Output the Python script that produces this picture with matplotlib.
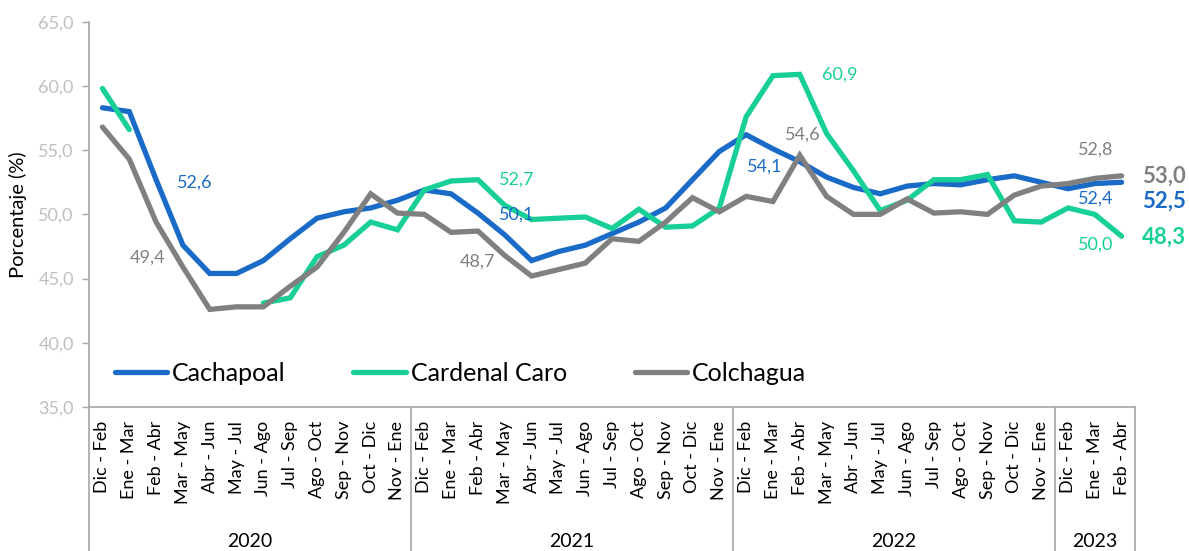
import matplotlib
matplotlib.use("Agg")
import matplotlib.pyplot as plt
import matplotlib.transforms as mtransforms
import numpy as np

plt.rcParams['font.family'] = ['Lato', 'DejaVu Sans']

periods = ["Dic - Feb", "Ene - Mar", "Feb - Abr", "Mar - May", "Abr - Jun", "May - Jul",
           "Jun - Ago", "Jul - Sep", "Ago - Oct", "Sep - Nov", "Oct - Dic", "Nov - Ene"]
years = ["2020", "2021", "2022", "2023"]
year_counts = [12, 12, 12, 3]
categories = periods * 3 + periods[:3]

cachapoal = [58.3, 58.0, 52.7, 47.6, 45.4, 45.4, 46.4, 48.1, 49.7, 50.2, 50.5, 51.1,
             51.9, 51.6, 50.1, 48.4, 46.4, 47.1, 47.6, 48.5, 49.4, 50.5, 52.7, 54.9,
             56.2, 55.1, 54.1, 52.9, 52.1, 51.6, 52.2, 52.4, 52.3, 52.7, 53.0, 52.5,
             52.0, 52.4, 52.5]
cardenal_caro = [59.8, 56.6, None, None, None, None, 43.1, 43.5, 46.7, 47.6, 49.4, 48.8,
                 51.9, 52.6, 52.7, 50.7, 49.6, 49.7, 49.8, 48.9, 50.4, 49.0, 49.1, 50.5,
                 57.6, 60.8, 60.9, 56.3, 53.4, 50.3, 51.1, 52.7, 52.7, 53.1, 49.5, 49.4,
                 50.5, 50.0, 48.3]
colchagua = [56.8, 54.3, 49.4, 45.9, 42.6, 42.8, 42.8, 44.4, 45.9, 48.6, 51.6, 50.1,
             50.0, 48.6, 48.7, 46.8, 45.2, 45.7, 46.2, 48.1, 47.9, 49.4, 51.3, 50.2,
             51.4, 51.0, 54.6, 51.4, 50.0, 50.0, 51.2, 50.1, 50.2, 50.0, 51.5, 52.2,
             52.4, 52.8, 53.0]

series_names = ["Cachapoal", "Cardenal Caro", "Colchagua"]
colors = ["#1A6BC8", "#17CF97", "#808080"]

# data labels: (text, x position, y position, series index)
labels = [
    ("52,6", 3.45, 52.5, 0), ("49,4", 1.7, 46.6, 2),
    ("52,7", 15.45, 52.7, 1), ("50,1", 15.45, 50.0, 0), ("48,7", 14.0, 46.3, 2),
    ("54,1", 24.7, 53.7, 0), ("60,9", 27.5, 60.85, 1), ("54,6", 26.1, 56.2, 2),
    ("52,8", 37.05, 55.05, 2), ("52,4", 37.05, 51.2, 0), ("50,0", 37.05, 47.65, 1),
]
end_labels = [("53,0", 52.95, 2), ("52,5", 51.0, 0), ("48,3", 48.2, 1)]

fig = plt.figure(figsize=(11.89, 5.51), dpi=100)
ax = fig.add_axes([0.0749, 0.2613, 0.8797, 0.6993])

x = np.arange(len(categories))
for vals, name, c in zip([cachapoal, cardenal_caro, colchagua], series_names, colors):
    y = np.array([np.nan if v is None else v for v in vals], dtype=float)
    ax.plot(x, y, color=c, lw=3.8, label=name, solid_capstyle='round', solid_joinstyle='miter')

for t, lx, ly, si in labels:
    ax.text(lx, ly, t, color=colors[si], fontsize=13, ha='center', va='center')
for t, ly, si in end_labels:
    ax.text(38.75, ly, t, color=colors[si], fontsize=16, fontweight='bold',
            ha='left', va='center', clip_on=False)

ax.set_xlim(-0.5, len(categories) - 0.5)
ax.set_ylim(35, 65)
ax.set_yticks(np.arange(35, 66, 5))
ax.set_yticklabels([f"{v:.1f}".replace('.', ',') for v in np.arange(35, 66, 5)],
                   color="#BFBFBF", fontsize=13)
ax.tick_params(axis='y', length=5, width=1, color="#A6A6A6", pad=6)
ax.set_xticks(x)
ax.set_xticklabels(categories, rotation=90, fontsize=13, va='top')
ax.tick_params(axis='x', length=0, pad=10)

for s in ['top', 'right']:
    ax.spines[s].set_visible(False)
for s in ['left', 'bottom']:
    ax.spines[s].set_color("#A6A6A6")
    ax.spines[s].set_linewidth(1.2)

ax.set_ylabel("Porcentaje (%)", fontsize=14.5, labelpad=8)

# multi-level category axis
trans = mtransforms.blended_transform_factory(ax.transData, ax.transAxes)
bounds = np.concatenate([[0], np.cumsum(year_counts)]) - 0.5
for b in bounds:
    ax.plot([b, b], [0, -0.40], transform=trans, color="#A6A6A6", lw=1.2, clip_on=False)
for i, yr in enumerate(years):
    ax.text((bounds[i] + bounds[i + 1]) / 2, -0.35, yr, transform=trans,
            ha='center', va='center', fontsize=14)

leg = ax.legend(loc='lower left', bbox_to_anchor=(0.003, 0.0), ncol=3, frameon=False,
                fontsize=18, handlelength=2.1, handletextpad=0.2, columnspacing=2.7)

fig.savefig("out.png", dpi=100)
